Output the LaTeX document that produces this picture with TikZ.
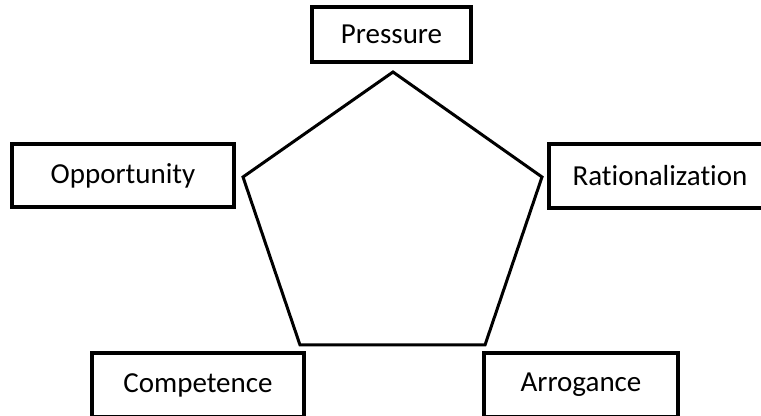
\documentclass[tikz,border=0pt]{standalone}
\usepackage{fontspec}
\setmainfont[Ligatures=NoCommon]{Carlito}
\begin{document}
\begin{tikzpicture}[x=0.5pt,y=-0.5pt,
  factor/.style={draw, line width=2pt, rectangle, inner sep=0pt, font=\fontsize{14.5}{17}\selectfont}]
\useasboundingbox (0,0) rectangle (761,416);
\clip (0,0) rectangle (761,416);
\node[factor, minimum width=79.5pt, minimum height=27.5pt] (pressure) at (391.5,34.5) {Pressure};
\node[factor, minimum width=111pt, minimum height=31.5pt] (opportunity) at (123,175.5) {Opportunity};
\node[factor, minimum width=111pt, minimum height=32pt] (rationalization) at (660,176) {Rationalization};
\node[factor, minimum width=106pt, minimum height=32pt] (competence) at (198,385) {Competence};
\node[factor, minimum width=97pt, minimum height=32pt] (arrogance) at (581,385) {Arrogance};

\coordinate (top) at (393,72);
\coordinate (left) at (243,177);
\coordinate (right) at (542,177);
\coordinate (lowleft) at (300,345);
\coordinate (lowright) at (485,345);

\path[draw,line width=1.5pt,line join=miter] (top) -- (right) -- (lowright) -- (lowleft) -- (left) -- cycle;
\end{tikzpicture}
\end{document}
